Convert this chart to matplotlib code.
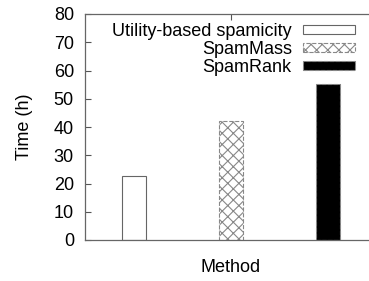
import matplotlib
matplotlib.use("Agg")
import matplotlib.pyplot as plt
from matplotlib.patches import Patch

plt.rcParams['font.family'] = ['Liberation Sans', 'DejaVu Sans']
plt.rcParams['hatch.color'] = '#888888'
plt.rcParams['hatch.linewidth'] = 0.8

methods = ["Utility-based spamicity", "SpamMass", "SpamRank"]
times = [22.5, 42.0, 55.2]
yticks = [0, 10, 20, 30, 40, 50, 60, 70, 80]

W, H = 369, 281
fig = plt.figure(figsize=(W / 100, H / 100), dpi=100)
ax = fig.add_axes([85 / W, 1 - 240 / H, (377 - 85) / W, (240 - 14) / H])

faces = ['white', 'white', 'black']
hatches = [None, 'xxx', None]
edges = ['#666666', '#888888', '#888888']
styles = ['solid', 'dashed', 'dashed']
pos = list(range(len(methods)))
for i in pos:
    ax.bar(pos[i], times[i], width=0.25, color=faces[i], hatch=hatches[i],
           edgecolor=edges[i], linestyle=styles[i], linewidth=0.8, zorder=2)

FS = 13
ax.set_xlim(-0.5, 2.5)
ax.set_ylim(0, 80)
ax.set_yticks(yticks)
ax.set_xticks([1])
ax.set_xticklabels([''])
ax.tick_params(axis='y', direction='in', length=4, labelsize=FS, color='#555555', pad=8)
ax.tick_params(axis='x', direction='in', length=4, top=True, bottom=True, color='#555555')
for s in ['left', 'top', 'bottom']:
    ax.spines[s].set_color('#666666')
    ax.spines[s].set_linewidth(0.9)
ax.spines['right'].set_visible(False)

ax.set_ylabel('Time (h)', fontsize=FS, labelpad=15)
ax.set_xlabel('Method', fontsize=FS, labelpad=10)

handles = [Patch(facecolor=faces[i], hatch=hatches[i], edgecolor=edges[i],
                 linestyle=styles[i], linewidth=0.8) for i in pos]
fig.legend(handles, methods, loc='upper right', bbox_to_anchor=(355 / W, 1 - 23 / H),
           bbox_transform=fig.transFigure, frameon=False, fontsize=FS,
           markerfirst=False, handlelength=2.9, handleheight=0.39,
           handletextpad=0.6, labelspacing=0.05, borderaxespad=0, borderpad=0)

fig.savefig('out.png', dpi=100)
